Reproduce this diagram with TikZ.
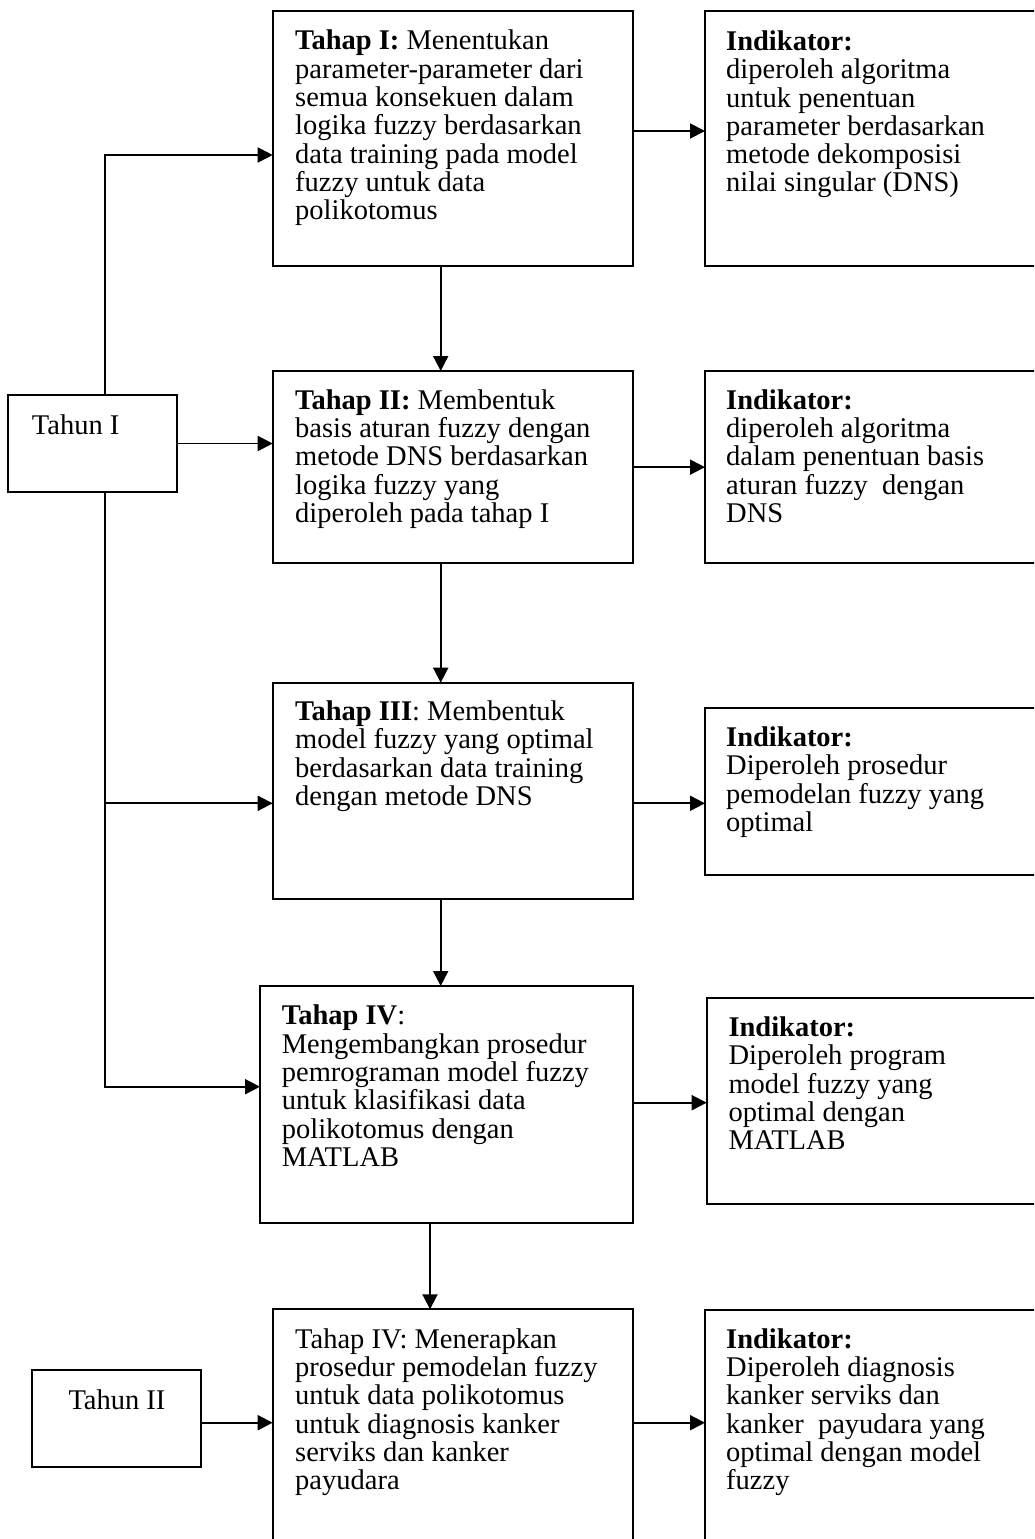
\documentclass[tikz,border=0pt]{standalone}
\usepackage{fontspec}
\setmainfont{Liberation Serif}
\usetikzlibrary{arrows.meta}
\begin{document}
\begin{tikzpicture}[x={(1pt,0)}, y={(0,-1pt)},
  box/.style={draw, line width=1.9pt, anchor=north west, inner sep=0pt, outer sep=0pt},
  txt/.style={anchor=north west, inner sep=0pt, align=left,
              font=\fontsize{28.5}{28.3}\selectfont},
  arr/.style={line width=1.9pt, -{Triangle[length=15pt, width=15pt]}}]
\clip (0,0) rectangle (1034,1539);
\fill[white] (0,0) rectangle (1034,1539);

% boxes
\node[box, minimum width=360pt,   minimum height=254.7pt] (s1) at (272.7,11) {};
\node[box, minimum width=400pt,   minimum height=254.7pt] (k1) at (705,11) {};
\node[box, minimum width=168.7pt, minimum height=96.4pt]  (y1) at (8,395.3) {};
\node[box, minimum width=360pt,   minimum height=192.3pt] (s2) at (272.7,371) {};
\node[box, minimum width=400pt,   minimum height=191.7pt] (k2) at (705,371) {};
\node[box, minimum width=360pt,   minimum height=216.3pt] (s3) at (272.7,682.7) {};
\node[box, minimum width=400pt,   minimum height=167.3pt] (k3) at (705,707.7) {};
\node[box, minimum width=372.7pt, minimum height=236.7pt] (s4) at (260,986) {};
\node[box, minimum width=400pt,   minimum height=205.7pt] (k4) at (706.7,998.3) {};
\node[box, minimum width=169pt,   minimum height=96.7pt]  (y2) at (32.3,1370) {};
\node[box, minimum width=360pt,   minimum height=260pt]   (s5) at (272.7,1309.3) {};
\node[box, minimum width=400pt,   minimum height=260pt]   (k5) at (705,1310) {};

% texts
\node[txt] (s1t) at (295,30) {\textbf{Tahap I:} Menentukan\\parameter-parameter dari\\semua konsekuen dalam\\logika fuzzy berdasarkan\\data training pada model\\fuzzy untuk data\\polikotomus};
\node[txt] (k1t) at (726,30.5) {\textbf{Indikator:}\\diperoleh algoritma\\untuk penentuan\\parameter berdasarkan\\metode dekomposisi\\nilai singular (DNS)};
\node[txt] (y1t) at (31.7,415) {Tahun I};
\node[txt] (s2t) at (295,389.3) {\textbf{Tahap II:} Membentuk\\basis aturan fuzzy dengan\\metode DNS berdasarkan\\logika fuzzy yang\\diperoleh pada tahap I};
\node[txt] (k2t) at (726,389.3) {\textbf{Indikator:}\\diperoleh algoritma\\dalam penentuan basis\\aturan fuzzy\ \ dengan\\DNS};
\node[txt] (s3t) at (295,700.7) {\textbf{Tahap III}: Membentuk\\model fuzzy yang optimal\\berdasarkan data training\\dengan metode DNS};
\node[txt] (k3t) at (726,726.7) {\textbf{Indikator:}\\Diperoleh prosedur\\pemodelan fuzzy yang\\optimal};
\node[txt] (s4t) at (281.7,1005) {\textbf{Tahap IV}:\\Mengembangkan prosedur\\pemrograman model fuzzy\\untuk klasifikasi data\\polikotomus dengan\\MATLAB};
\node[txt] (k4t) at (728.3,1016.7) {\textbf{Indikator:}\\Diperoleh program\\model fuzzy yang\\optimal dengan\\MATLAB};
\node[txt] (y2t) at (68.3,1390) {Tahun II};
\node[txt] (s5t) at (295,1328.3) {Tahap IV: Menerapkan\\prosedur pemodelan fuzzy\\untuk data polikotomus\\untuk diagnosis kanker\\serviks dan kanker\\payudara};
\node[txt] (k5t) at (726,1328.3) {\textbf{Indikator:}\\Diperoleh diagnosis\\kanker serviks dan\\kanker\ \ payudara yang\\optimal dengan model\\fuzzy};

% guide coordinates for connector positions
\coordinate (vx) at (105,0);
\coordinate (ax) at (440.7,0);
\coordinate (bx) at (430,0);
\coordinate (h1) at (0,155);
\coordinate (r1) at (0,131);
\coordinate (h3) at (0,803.3);
\coordinate (h4) at (0,1086.7);
\coordinate (r4) at (0,1102.7);
\coordinate (h5) at (0,1422.7);

% Tahun I feeds
\draw[arr] (y1.north -| vx) |- (s1.west |- h1);
\draw[arr] (y1.east) -- (y1.east -| s2.west);
\draw[arr] (y1.south -| vx) |- (s4.west |- h4);
\draw[arr] (vx |- h3) -- (s3.west |- h3);

% stage to stage
\draw[arr] (s1.south -| ax) -- (s2.north -| ax);
\draw[arr] (s2.south -| ax) -- (s3.north -| ax);
\draw[arr] (s3.south -| ax) -- (s4.north -| ax);
\draw[arr] (s4.south -| bx) -- (s5.north -| bx);

% stage to indicator
\draw[arr] (s1.east |- r1) -- (k1.west |- r1);
\draw[arr] (s2.east) -- (s2.east -| k2.west);
\draw[arr] (s3.east |- h3) -- (k3.west |- h3);
\draw[arr] (s4.east |- r4) -- (k4.west |- r4);

% Tahun II
\draw[arr] (y2.east |- h5) -- (s5.west |- h5);
\draw[arr] (s5.east |- h5) -- (k5.west |- h5);
\end{tikzpicture}
\end{document}
